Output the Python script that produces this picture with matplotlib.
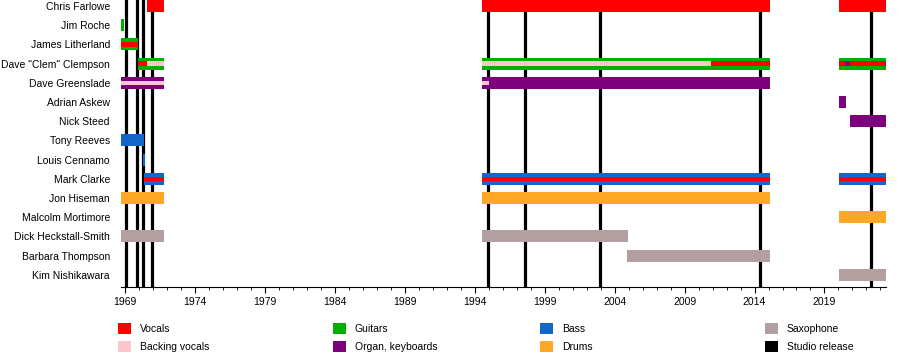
import matplotlib
matplotlib.use('Agg')
import matplotlib.pyplot as plt
from matplotlib.patches import Patch

plt.rcParams['font.family'] = ['Liberation Sans', 'DejaVu Sans']

# band members, top to bottom
members = ['Chris Farlowe', 'Jim Roche', 'James Litherland', 'Dave "Clem" Clempson',
           'Dave Greenslade', 'Adrian Askew', 'Nick Steed', 'Tony Reeves',
           'Louis Cennamo', 'Mark Clarke', 'Jon Hiseman', 'Malcolm Mortimore',
           'Dick Heckstall-Smith', 'Barbara Thompson', 'Kim Nishikawara']

start, end = 1968.7, 2023.4

# (member, from, to, role) - main instrument bars
main_bars = [
    ('Chris Farlowe', 1970.57, 1971.8, 'Vocals'),
    ('Chris Farlowe', 1994.5, 2015.1, 'Vocals'),
    ('Chris Farlowe', 2020.07, end, 'Vocals'),
    ('Jim Roche', start, 1968.95, 'Guitars'),
    ('James Litherland', start, 1969.88, 'Guitars'),
    ('Dave "Clem" Clempson', 1969.88, 1971.8, 'Guitars'),
    ('Dave "Clem" Clempson', 1994.5, 2015.1, 'Guitars'),
    ('Dave "Clem" Clempson', 2020.07, end, 'Guitars'),
    ('Dave Greenslade', start, 1971.8, 'Organ, keyboards'),
    ('Dave Greenslade', 1994.5, 2015.1, 'Organ, keyboards'),
    ('Adrian Askew', 2020.07, 2020.57, 'Organ, keyboards'),
    ('Nick Steed', 2020.86, end, 'Organ, keyboards'),
    ('Tony Reeves', start, 1970.36, 'Bass'),
    ('Louis Cennamo', 1970.28, 1970.4, 'Bass'),
    ('Mark Clarke', 1970.36, 1971.8, 'Bass'),
    ('Mark Clarke', 1994.5, 2015.1, 'Bass'),
    ('Mark Clarke', 2020.07, end, 'Bass'),
    ('Jon Hiseman', start, 1971.8, 'Drums'),
    ('Jon Hiseman', 1994.5, 2015.1, 'Drums'),
    ('Malcolm Mortimore', 2020.07, end, 'Drums'),
    ('Dick Heckstall-Smith', start, 1971.8, 'Saxophone'),
    ('Dick Heckstall-Smith', 1994.5, 2004.93, 'Saxophone'),
    ('Barbara Thompson', 2004.88, 2015.1, 'Saxophone'),
    ('Kim Nishikawara', 2020.07, end, 'Saxophone'),
]

# secondary roles drawn as thin bars inside the main ones
inner_bars = [
    ('James Litherland', start, 1969.88, 'Vocals'),
    ('Dave "Clem" Clempson', 1969.88, 1970.57, 'Vocals'),
    ('Dave "Clem" Clempson', 1970.57, 1971.8, 'Backing vocals'),
    ('Dave "Clem" Clempson', 1994.5, 2010.9, 'Backing vocals'),
    ('Dave "Clem" Clempson', 2010.9, 2015.1, 'Vocals'),
    ('Dave "Clem" Clempson', 2020.07, end, 'Vocals'),
    ('Dave "Clem" Clempson', 2020.45, 2020.8, 'Organ, keyboards'),
    ('Dave Greenslade', start, 1971.8, 'Backing vocals'),
    ('Dave Greenslade', 1994.5, 1995.0, 'Backing vocals'),
    ('Mark Clarke', 1970.36, 1971.8, 'Vocals'),
    ('Mark Clarke', 1994.5, 2015.1, 'Vocals'),
    ('Mark Clarke', 2020.07, end, 'Vocals'),
]

studio_releases = [1969.07, 1969.84, 1970.26, 1970.9, 1994.95, 1997.6,
                   2002.95, 2014.4, 2022.36]

colors = {
    'Vocals': '#ff0000',
    'Backing vocals': '#f9c8cd',
    'Guitars': '#00b000',
    'Organ, keyboards': '#7d007d',
    'Bass': '#1466c8',
    'Drums': '#ffa726',
    'Saxophone': '#b39ea0',
    'Studio release': '#000000',
}

fig = plt.figure(figsize=(9, 3.6), dpi=100)
ax = fig.add_axes([121 / 900, 73 / 360, 765 / 900, 287 / 360])

row = {m: i for i, m in enumerate(members)}

for x in studio_releases:
    ax.axvline(x, color='black', lw=2.3, zorder=1)

for m, a, b, role in main_bars:
    ax.barh(row[m], b - a, left=a, height=0.63, color=colors[role], lw=0, zorder=2)

for m, a, b, role in inner_bars:
    ax.barh(row[m], b - a, left=a, height=0.23, color=colors[role], lw=0, zorder=3)

ax.set_xlim(start, end)
ax.set_ylim(len(members) - 1 + 0.635, -0.3125)
ax.set_yticks(range(len(members)))
ax.set_yticklabels(members, fontsize=7.5)
ax.tick_params(axis='y', length=0, pad=8)
ax.set_xticks(range(1969, 2024, 5))
ax.set_xticks(range(1969, 2024), minor=True)
ax.tick_params(axis='x', which='major', length=4, labelsize=7.5, pad=3)
ax.tick_params(axis='x', which='minor', length=2.5)
for s in ['top', 'right', 'left']:
    ax.spines[s].set_visible(False)
ax.spines['bottom'].set_linewidth(0.8)

# legend in four columns
legend_cols = [
    (118, ['Vocals', 'Backing vocals']),
    (333, ['Guitars', 'Organ, keyboards']),
    (540, ['Bass', 'Drums']),
    (765, ['Saxophone', 'Studio release']),
]
for x, names in legend_cols:
    handles = [Patch(facecolor=colors[n], edgecolor='none', label=n) for n in names]
    fig.legend(handles=handles, loc='upper left', bbox_to_anchor=(x / 900, 1 - 323 / 360),
               frameon=False, fontsize=7.5, handlelength=1.25, handleheight=1.25,
               handletextpad=0.85, labelspacing=0.68, borderpad=0, borderaxespad=0)

fig.savefig('out.png', dpi=100)
